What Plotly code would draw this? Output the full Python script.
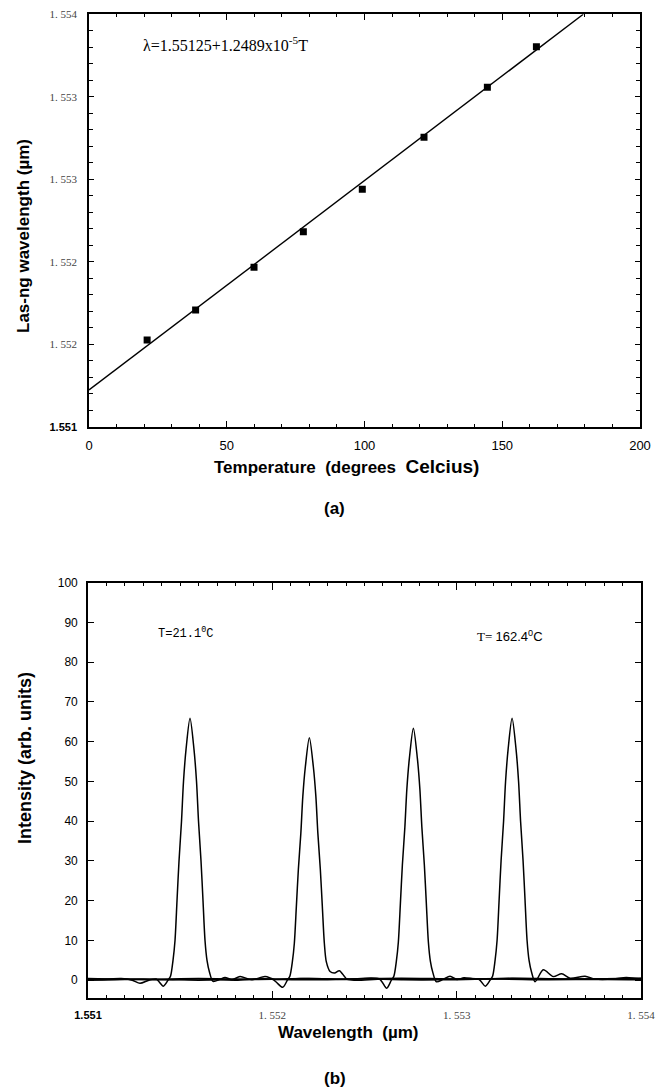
import plotly.graph_objects as go

# ---------------- (a) lasing wavelength vs temperature ----------------
temp_c = [21.1, 38.7, 59.9, 77.8, 99.2, 121.6, 144.6, 162.4]
lasing_um = [1.551631, 1.551849, 1.552160, 1.552419, 1.552727, 1.553105, 1.553469, 1.553764]
fit_temp = [0.0, 179.4]
fit_um = [1.551267, 1.554]

a_ytick_vals = [1.551, 1.5516, 1.5522, 1.5528, 1.5534, 1.554]
a_ytick_text = ['<span style="font-family:Liberation Sans Narrow, Liberation Sans;font-weight:bold;fill:#000">1.551</span>',
                "1. 552", "1. 552", "1. 553", "1. 553", "1. 554"]
a_xtick_vals = [0, 50, 100, 150, 200]
a_xtick_text = ["0", "50", "100", "150", "200"]

# ---------------- (b) spectra ----------------
wl1 = [1.5510, 1.55108, 1.55118, 1.55124, 1.551282, 1.55133, 1.55137,
       1.5514086, 1.5514341, 1.5514476, 1.5514612, 1.5514720, 1.5514829, 1.5514937, 1.5515073, 1.5515181, 1.5515317,
       1.5515534,
       1.5515751, 1.5515887, 1.5515995, 1.5516131, 1.5516239, 1.5516348, 1.5516456, 1.5516592, 1.5516782,
       1.5517150, 1.5517432, 1.5517812, 1.5518246, 1.5518897, 1.5519602, 1.5520145,
       1.55215, 1.5524, 1.5527, 1.5530, 1.5533, 1.5536, 1.5540]
in1 = [0.3, 0.2, 0.4, 0.0, -0.8, 0.0, 0.3,
       -1.5, 0.0, 1.0, 5.0, 10.0, 20.0, 30.0, 40.0, 50.0, 58.0,
       65.9,
       58.0, 50.0, 40.0, 30.0, 20.0, 10.0, 5.0, 2.0, -0.3,
       0.2, 0.7, 0.1, 0.9, 0.1, 0.9, 0.2,
       0.4, 0.3, 0.5, 0.3, 0.4, 0.3, 0.4]

wl2 = [1.5510, 1.5512, 1.5514, 1.5516, 1.5518, 1.5520,
       1.5520560, 1.5520815, 1.5520950, 1.5521086, 1.5521194, 1.5521303, 1.5521411, 1.5521547, 1.5521655, 1.5521791,
       1.5522008,
       1.5522225, 1.5522361, 1.5522469, 1.5522605, 1.5522713, 1.5522822, 1.5522930,
       1.5523131, 1.5523380, 1.5523636, 1.5524040,
       1.55245, 1.5526, 1.5529, 1.5532, 1.5535, 1.5538, 1.5540]
in2 = [0.0, 0.2, 0.1, 0.3, 0.0, 0.2,
       -1.8, 0.0, 1.0, 4.6, 9.3, 18.5, 27.8, 37.0, 46.3, 53.7,
       61.0,
       53.7, 46.3, 37.0, 27.8, 18.5, 9.3, 4.6,
       2.2, 1.8, 2.4, 0.3,
       0.0, 0.3, 0.1, 0.3, 0.1, 0.2, 0.1]

wl3 = [1.5510, 1.5513, 1.5516, 1.5519, 1.5522, 1.5524, 1.55258,
       1.5526203, 1.5526458, 1.5526593, 1.5526729, 1.5526837, 1.5526946, 1.5527054, 1.5527190, 1.5527298, 1.5527434,
       1.5527651,
       1.5527868, 1.5528004, 1.5528112, 1.5528248, 1.5528356, 1.5528465, 1.5528573, 1.5528709, 1.5528899,
       1.5529260, 1.5529639, 1.5530020, 1.5530400,
       1.5531, 1.5533, 1.5536, 1.5540]
in3 = [0.4, 0.2, 0.4, 0.2, 0.4, 0.2, 0.3,
       -2.0, 0.0, 1.0, 4.8, 9.6, 19.2, 28.9, 38.5, 48.1, 55.8,
       63.4,
       55.8, 48.1, 38.5, 28.9, 19.2, 9.6, 4.8, 1.9, -0.4,
       0.2, 1.0, 0.2, 0.6,
       0.3, 0.5, 0.3, 0.5]

wl4 = [1.5510, 1.5513, 1.5516, 1.5519, 1.5522, 1.5525, 1.5528, 1.5530, 1.55312,
       1.5531558, 1.5531813, 1.5531948, 1.5532084, 1.5532192, 1.5532301, 1.5532409, 1.5532545, 1.5532653, 1.5532789,
       1.5533006,
       1.5533223, 1.5533359, 1.5533467, 1.5533603, 1.5533711, 1.5533820, 1.5533928, 1.5534064, 1.5534254,
       1.5534700, 1.5535243, 1.5535698, 1.5536150, 1.5536963, 1.55375,
       1.55385, 1.55392, 1.5540]
in4 = [0.1, 0.3, 0.0, 0.3, 0.1, 0.3, 0.1, 0.3, 0.2,
       -1.5, 0.0, 1.0, 5.0, 10.0, 20.0, 30.0, 40.0, 50.0, 58.0,
       65.9,
       58.0, 50.0, 40.0, 30.0, 20.0, 10.0, 5.0, 2.0, -0.4,
       2.6, 0.9, 1.6, 0.5, 1.0, 0.3,
       0.3, 0.7, 0.3]

b_xtick_vals = [1.551, 1.552, 1.553, 1.554]
b_xtick_text = ['<span style="font-family:Liberation Sans Narrow, Liberation Sans;font-weight:bold;fill:#000">1.551</span>',
                "1. 552", "1. 553", "1. 554"]
b_ytick_vals = [0, 10, 20, 30, 40, 50, 60, 70, 80, 90, 100]

W, H = 660, 1089
def px(x):
    return x / W
def py(y):
    return 1 - y / H

fig = go.Figure()

fig.add_trace(go.Scatter(x=fit_temp, y=fit_um, mode="lines",
                         line=dict(color="black", width=1.4), xaxis="x", yaxis="y",
                         showlegend=False, hoverinfo="skip"))
fig.add_trace(go.Scatter(x=temp_c, y=lasing_um, mode="markers",
                         marker=dict(symbol="square", size=7, color="black"),
                         xaxis="x", yaxis="y", showlegend=False))

for wl, inten in [(wl1, in1), (wl2, in2), (wl3, in3), (wl4, in4)]:
    fig.add_trace(go.Scatter(x=wl, y=inten, mode="lines",
                             line=dict(color="black", width=1.5, shape="spline", smoothing=0.8),
                             xaxis="x2", yaxis="y2", showlegend=False, hoverinfo="skip"))

sans_bold = "Liberation Sans Narrow, Liberation Sans, Arial"
serif = "Liberation Serif, DejaVu Serif, serif"

axis_common = dict(showline=True, linecolor="black", linewidth=1.6, mirror="ticks",
                   ticks="inside", tickcolor="black", tickwidth=1.2, showgrid=False,
                   zeroline=False, automargin=False)

fig.update_layout(
    width=W, height=H,
    margin=dict(l=0, r=0, t=0, b=0, pad=0, autoexpand=False),
    paper_bgcolor="white", plot_bgcolor="white",
    xaxis=dict(domain=[89 / W, 640 / W], anchor="y", range=[0, 200],
               tickmode="array", tickvals=a_xtick_vals, ticktext=a_xtick_text,
               ticklen=6, ticklabelstandoff=6,
               tickfont=dict(family=sans_bold, size=13, color="black"),
               minor=dict(ticks="inside", dtick=10, tick0=0, ticklen=3, tickcolor="black", tickwidth=1),
               **axis_common),
    yaxis=dict(domain=[1 - 426.7 / H, 1 - 14.3 / H], anchor="x", range=[1.551, 1.554],
               tickmode="array", tickvals=a_ytick_vals, ticktext=a_ytick_text,
               ticklen=5, ticklabelstandoff=8,
               tickfont=dict(family=serif, size=11, color="#444"),
               minor=dict(ticks="inside", dtick=0.00012, tick0=1.551, ticklen=4, tickcolor="black", tickwidth=1),
               **axis_common),
    xaxis2=dict(domain=[88 / W, 641 / W], anchor="y2", range=[1.551, 1.554],
                tickmode="array", tickvals=b_xtick_vals, ticktext=b_xtick_text,
                ticklen=7, ticklabelstandoff=6,
                tickfont=dict(family=serif, size=11, color="#444"),
                minor=dict(ticks="inside", dtick=0.0001, tick0=1.551, ticklen=3, tickcolor="black", tickwidth=1),
                **axis_common),
    yaxis2=dict(domain=[1 - 998 / H, 1 - 582.7 / H], anchor="x2", range=[-4.48, 100],
                tickmode="array", tickvals=b_ytick_vals,
                ticktext=[str(v) for v in b_ytick_vals],
                ticklen=6, ticklabelstandoff=6,
                tickfont=dict(family=sans_bold, size=12, color="black"),
                **axis_common),
)

ann = []
ann.append(dict(text="λ=1.55125+1.2489x10<sup>-5</sup>T", x=px(141), y=py(44), xanchor="left", yanchor="middle",
                font=dict(family=serif, size=16, color="black")))
ann.append(dict(text="<b>Temperature  (degrees  <span style='font-size:19px'>Celcius)</span></b>",
                x=px(346), y=py(466), xanchor="center", yanchor="middle",
                font=dict(family="Liberation Sans, Arial", size=17, color="black")))
ann.append(dict(text="<b>(a)</b>", x=px(334), y=py(508), xanchor="center", yanchor="middle",
                font=dict(family="Liberation Sans, Arial", size=17, color="black")))
ann.append(dict(text="<b>Las-ng wavelength (µm)</b>", x=px(23), y=py(236), xanchor="center", yanchor="middle",
                textangle=-90, font=dict(family="Liberation Sans, Arial", size=17, color="black")))
ann.append(dict(text="T=21.1<sup>0</sup>C", x=px(156), y=py(633), xanchor="left", yanchor="middle",
                font=dict(family="Liberation Mono, DejaVu Sans Mono", size=12, color="black")))
ann.append(dict(text="T= <span style='font-family:Liberation Sans'>162.4<sup>0</sup>C</span>",
                x=px(475), y=py(636), xanchor="left", yanchor="middle",
                font=dict(family=serif, size=13, color="black")))
ann.append(dict(text="<b>Intensity (arb. units)</b>", x=px(25), y=py(758), xanchor="center", yanchor="middle",
                textangle=-90, font=dict(family="Liberation Sans, Arial", size=18, color="black")))
ann.append(dict(text="<b>Wavelength  (µm)</b>", x=px(348), y=py(1032), xanchor="center", yanchor="middle",
                font=dict(family="Liberation Sans, Arial", size=17, color="black")))
ann.append(dict(text="<b>(b)</b>", x=px(335), y=py(1078), xanchor="center", yanchor="middle",
                font=dict(family="Liberation Sans, Arial", size=17, color="black")))
for a in ann:
    a.update(xref="paper", yref="paper", showarrow=False)
fig.update_layout(annotations=ann)

fig.write_html("out.html")
